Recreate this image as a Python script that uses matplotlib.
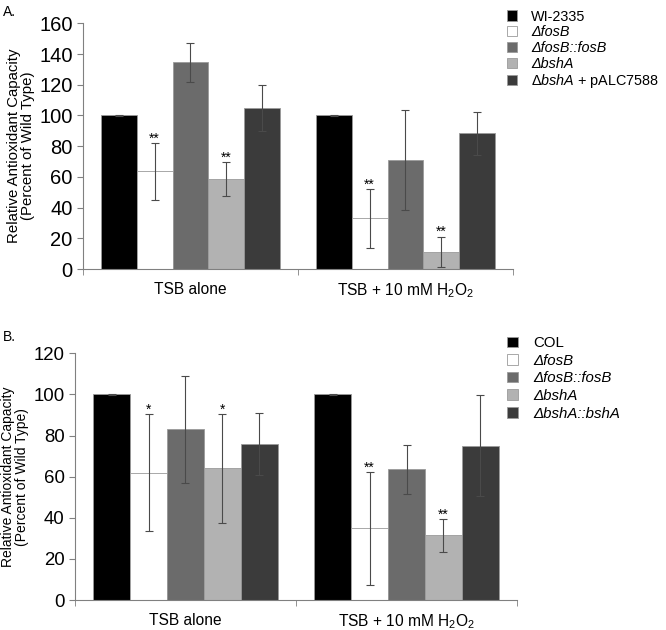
import numpy as np
import matplotlib
matplotlib.use("Agg")
import matplotlib.pyplot as plt

plt.rcParams['font.family'] = ['Liberation Sans', 'DejaVu Sans']
plt.rcParams['mathtext.fontset'] = 'custom'
plt.rcParams['mathtext.rm'] = 'Liberation Sans'
plt.rcParams['mathtext.it'] = 'Liberation Sans:italic'

# data
conditions = ["TSB alone", "TSB + 10 mM H$_2$O$_2$"]

strains_a = ["WI-2335", "ΔfosB", "ΔfosB::fosB", "ΔbshA", r"$\mathit{\Delta bshA}$ + pALC7588"]
mean_a = [[100, 63.5, 134.5, 58.5, 105], [100, 33, 71, 11, 88.5]]
err_a = [[0.3, 18.5, 12.5, 11, 15], [0.3, 19, 32.5, 10, 14]]
stars_a = [["", "**", "", "**", ""], ["", "**", "", "**", ""]]

strains_b = ["COL", "ΔfosB", "ΔfosB::fosB", "ΔbshA", "ΔbshA::bshA"]
mean_b = [[100, 62, 83, 64, 76], [100, 35, 63.5, 31.5, 75]]
err_b = [[0.3, 28.5, 26, 26.5, 15], [0.3, 27.5, 12, 8, 24.5]]
stars_b = [["", "*", "", "*", ""], ["", "**", "", "**", ""]]

colors = ["#000000", "#ffffff", "#6b6b6b", "#b2b2b2", "#3b3b3b"]

fig = plt.figure(figsize=(6.66, 6.3), dpi=100)


def panel(rect, strains, means, errs, stars, ymax, ystep, letter, letter_y,
          leg_anchor, italic, tick_fs, lab_fs, cat_fs, leg_fs, leg_sp):
    ax = fig.add_axes(rect)
    w = 1 / 6
    x = np.arange(len(conditions))
    handles = []
    for i, s in enumerate(strains):
        vals = [m[i] for m in means]
        e = [er[i] for er in errs]
        b = ax.bar(x + (i - 2) * w, vals, w, color=colors[i], edgecolor="#9a9a9a",
                   linewidth=0.6, label=s, zorder=2)
        ax.errorbar(x + (i - 2) * w, vals, yerr=e, fmt="none", ecolor="#4a4a4a",
                    elinewidth=0.8, capsize=3, capthick=0.8, zorder=3)
        handles.append(b)
        for j in range(len(conditions)):
            if stars[j][i]:
                ax.text(x[j] + (i - 2) * w, vals[j] + e[j] - 1.5, stars[j][i],
                        ha="center", va="bottom", fontsize=10)
    ax.set_xlim(-0.5, 1.5)
    ax.set_ylim(0, ymax)
    ax.set_yticks(np.arange(0, ymax + 1, ystep))
    ax.set_xticks(x, conditions)
    ax.set_xticks([-0.5, 0.5, 1.5], minor=True)
    ax.tick_params(axis="x", which="major", length=0, pad=9, labelsize=cat_fs)
    ax.tick_params(axis="x", which="minor", length=4, color="#808080", direction="out")
    ax.tick_params(axis="y", length=4, color="#808080", labelsize=tick_fs)
    for sp in ["top", "right"]:
        ax.spines[sp].set_visible(False)
    for sp in ["left", "bottom"]:
        ax.spines[sp].set_color("#808080")
    ax.set_ylabel("Relative Antioxidant Capacity\n(Percent of Wild Type)", fontsize=lab_fs,
                  linespacing=1.0, labelpad=3)
    leg = fig.legend(handles=handles, loc="upper left", bbox_to_anchor=leg_anchor,
                     frameon=False, fontsize=leg_fs, handlelength=0.7, handleheight=0.7,
                     handletextpad=1.0, labelspacing=leg_sp, borderaxespad=0)
    for k in italic:
        leg.get_texts()[k].set_fontstyle("italic")
    fig.text(0.004, letter_y, letter, fontsize=10, va="center", ha="left")
    return ax


panel([0.1246, 0.573, 0.6456, 0.390], strains_a, mean_a, err_a, stars_a, 160, 20,
      "A.", 0.981, (0.752, 0.994), [1, 2, 3], 14.5, 10.8, 11.2, 10.4, 0.12)
panel([0.1126, 0.0476, 0.6637, 0.3916], strains_b, mean_b, err_b, stars_b, 120, 20,
      "B.", 0.465, (0.753, 0.476), [1, 2, 3, 4], 13.4, 10.0, 11.2, 10.8, 0.24)

fig.savefig("out.png", dpi=100)
